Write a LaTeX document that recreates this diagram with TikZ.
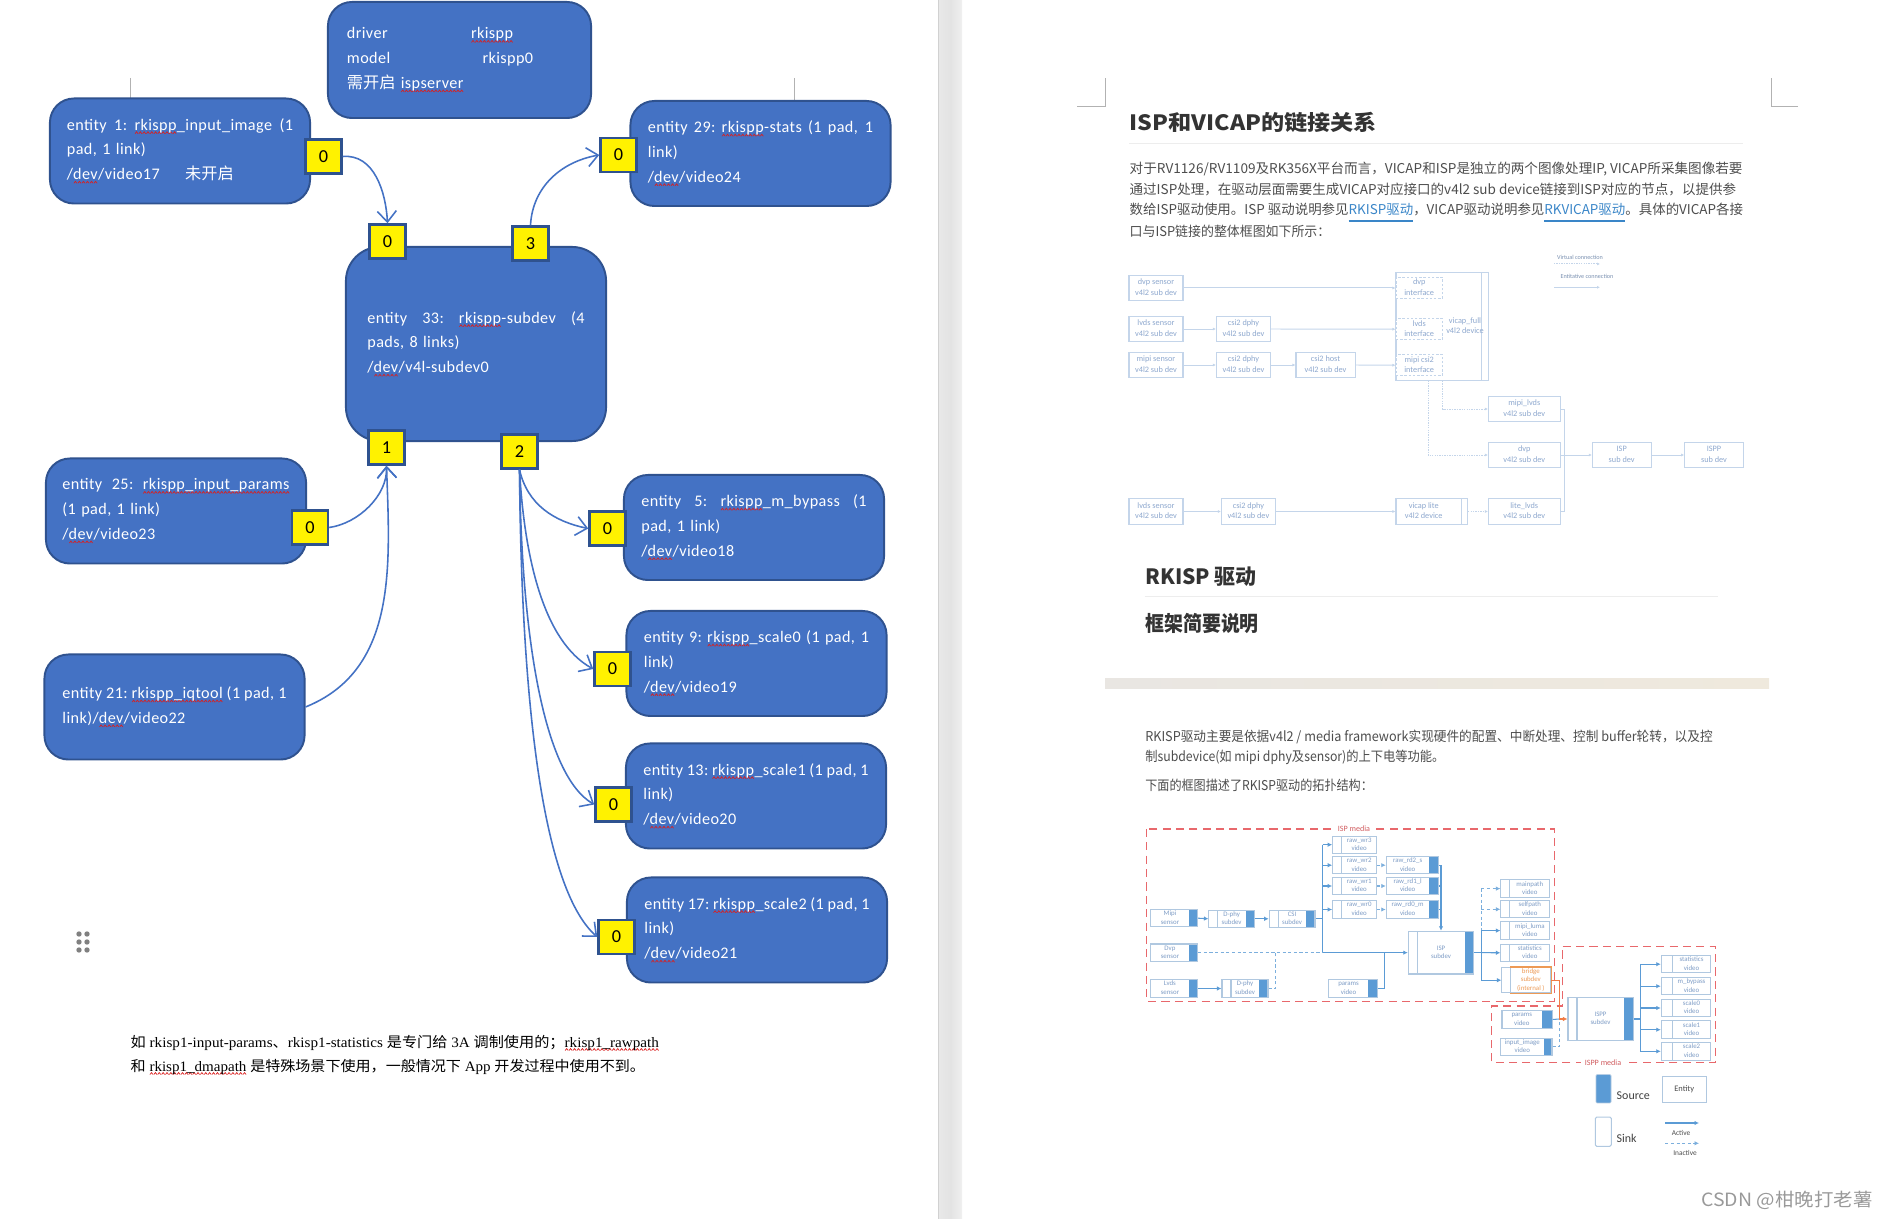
\documentclass[tikz,border=0pt]{standalone}
\usepackage{fontspec}
\usepackage{graphicx}
\usepackage{xcolor}
\usetikzlibrary{arrows.meta, positioning, calc}
\setmainfont{Carlito}
\newfontfamily\entityfont{Carlito}[LetterSpace=2.5]
\newfontfamily\cjk{Noto Sans CJK SC}
\newfontfamily\songlike{Liberation Serif}
\definecolor{entityblue}{HTML}{4472C4}
\definecolor{entityedge}{HTML}{2F528F}
\definecolor{mediablue}{HTML}{5B9BD5}
\definecolor{mediaedge}{HTML}{B0C8E0}
\definecolor{medialabel}{HTML}{7F9DC6}
\definecolor{paleedge}{HTML}{C4D5EA}
\definecolor{palelabel}{HTML}{8FA9CF}
\definecolor{mediared}{HTML}{E8686C}
\definecolor{bridgeorange}{HTML}{ED9A55}
\definecolor{doctext}{HTML}{4D4D4D}
\definecolor{linkblue}{HTML}{3A86C8}
\definecolor{bandleft}{HTML}{E9E6E2}
\definecolor{bandright}{HTML}{EFE9DD}
\definecolor{squigred}{HTML}{D92020}
\newlength\sqglen
\newsavebox\sqgbox
\newcommand\sqg[1]{\settowidth\sqglen{#1}\leavevmode\rlap{\raisebox{-1.1pt}{\hbox to \sqglen{\xleaders\copy\sqgbox\hfill}}}#1}
\newcommand\fitline[2]{\makebox[#1][s]{\spaceskip=0.2em plus 1fil\xspaceskip=\spaceskip #2}}
\newcommand\wtext[2]{\resizebox{#1}{\height}{#2}}
\newcommand\twol[3][0cm]{\hspace*{#1}\begin{tabular}{@{}c@{}}#2\\#3\end{tabular}}
\tikzset{
  entitybox/.style={
    draw=entityedge, fill=entityblue, rounded corners=0.24cm, line width=0.55pt,
    text=white, align=left, inner sep=0pt, minimum width=2.6cm, minimum height=1.05cm,
    font=\entityfont\fontsize{4.6}{7.05}\selectfont
  },
  padbox/.style={
    draw=entityedge, fill=yellow, line width=0.7pt, text=black, inner sep=0pt,
    minimum width=0.36cm, minimum height=0.34cm, font=\fontsize{5.2}{6}\selectfont
  },
  padarrow/.style={-{Straight Barb[length=1.1mm, width=1.9mm]}, line width=0.45pt, color=entityblue},
  doctextline/.style={anchor=base west, yshift=-0.05cm, inner sep=0pt, text=doctext, font=\cjk\fontsize{3.85}{5}\selectfont},
  dochead/.style={anchor=base west, yshift=-0.08cm, inner sep=0pt, text=black!80, font=\cjk\bfseries\fontsize{6}{7}\selectfont},
  docrule/.style={line width=0.35pt, color=black!7},
  notetext/.style={anchor=base west, yshift=-0.05cm, inner sep=0pt, font=\songlike\fontsize{4.1}{5}\selectfont},
  cropmark/.style={line width=0.25pt, color=black!30},
  palebox/.style={
    draw=paleedge, fill=white, line width=0.3pt, inner sep=0pt, text=palelabel,
    minimum width=0.54cm, minimum height=0.254cm, font=\fontsize{2.35}{2.85}\selectfont
  },
  paledashbox/.style={palebox, dashed, dash pattern=on 0.7pt off 0.5pt, minimum width=0.464cm, minimum height=0.214cm},
  barbox/.style={palebox, path picture={\draw[paleedge] ([xshift=-#1]path picture bounding box.north east) -- ([xshift=-#1]path picture bounding box.south east);}},
  barbox/.default=0.067cm,
  palearrow/.style={-{Latex[length=0.3mm, width=0.3mm]}, line width=0.28pt, color=paleedge},
  paleline/.style={line width=0.28pt, color=paleedge},
  paledot/.style={palearrow, dash pattern=on 0.4pt off 0.3pt},
  palelegend/.style={inner sep=0pt, text=palelabel!85!black, font=\fontsize{1.75}{2}\selectfont},
  mediabox/.style={
    draw=mediaedge, fill=white, line width=0.3pt, inner sep=0pt, text=medialabel,
    minimum width=0.44cm, minimum height=0.173cm, font=\fontsize{1.95}{2.4}\selectfont
  },
  srcbox/.style={mediabox, path picture={\fill[mediablue] ([xshift=-#1]path picture bounding box.north east) rectangle (path picture bounding box.south east);}},
  srcbox/.default=0.087cm,
  sinkbox/.style={mediabox, path picture={\draw[mediaedge] ([xshift=#1]path picture bounding box.north west) -- ([xshift=#1]path picture bounding box.south west);}},
  sinkbox/.default=0.09cm,
  bothbox/.style={mediabox, path picture={
    \fill[mediablue] ([xshift=-0.087cm]path picture bounding box.north east) rectangle (path picture bounding box.south east);
    \draw[mediaedge] ([xshift=0.09cm]path picture bounding box.north west) -- ([xshift=0.09cm]path picture bounding box.south west);}},
  mediaarrow/.style={-{Latex[length=0.45mm, width=0.45mm]}, line width=0.3pt, color=mediablue},
  mediadash/.style={mediaarrow, color=mediablue!80, dash pattern=on 0.9pt off 0.7pt},
  mediawire/.style={line width=0.3pt, color=mediablue},
  mediawiredash/.style={mediawire, color=mediablue!80, dash pattern=on 0.9pt off 0.7pt},
  mediaframe/.style={line width=0.32pt, color=mediared, dash pattern=on 2.3pt off 1.5pt},
  medialegend/.style={inner sep=0pt, text=black!70, font=\fontsize{2.1}{2.5}\selectfont},
}
\begin{document}
\sbox\sqgbox{\begin{pgfpicture}\pgfsetlinewidth{0.2pt}\pgfsetstrokecolor{squigred}\pgfpathmoveto{\pgfqpoint{0pt}{0pt}}\pgfpathlineto{\pgfqpoint{0.42pt}{0.55pt}}\pgfpathlineto{\pgfqpoint{0.84pt}{0pt}}\pgfusepath{stroke}\end{pgfpicture}}
\begin{tikzpicture}[x=0.01cm, y=-0.01cm]
  \useasboundingbox (0,0) rectangle (1887,1219);

  % === Page gutter ===
  \fill[left color=black!9, right color=black!6, middle color=black!11] (939,0) rectangle (962,1219);
  \draw[line width=0.25pt, black!18] (938.5,0) -- (938.5,1219);
  \draw[cropmark] (130,78) -- (130,98);
  \draw[cropmark] (794,78) -- (794,100);
  \draw[cropmark] (1077,106) -- (1105,106) -- (1105,78);
  \draw[cropmark] (1798,106) -- (1771,106) -- (1771,78);

  % === Entity boxes ===
  \node[entitybox, minimum width=2.63cm, minimum height=1.16cm, text width=2.25cm] (driver) at (459.5,60)
    {\makebox[1.24cm][l]{driver}\sqg{rkispp}\\
    \makebox[1.355cm][l]{model}rkispp0\\
    {\cjk 需开启} \sqg{ispserver}};
  \node[entitybox, text width=2.26cm] (entone) at (180,151)
    {\fitline{2.26cm}{entity 1: \sqg{rkispp}\_input\_image (1}\\
    pad, 1 link)\\
    /\sqg{dev}/video17\hspace{0.2cm} {\cjk 未开启}};
  \node[entitybox, rounded corners=0.34cm, minimum height=1.94cm, text width=2.17cm] (enttt) at (476,344)
    {\fitline{2.17cm}{entity 33: \sqg{rkispp}-subdev (4}\\
    pads, 8 links)\\
    /\sqg{dev}/v4l-subdev0};
  \node[entitybox, text width=2.25cm] (enttn) at (760.5,153.5)
    {\fitline{2.25cm}{entity 29: \sqg{rkispp}-stats (1 pad, 1}\\
    link)\\
    /\sqg{dev}/video24};
  \node[entitybox, text width=2.27cm] (enttf) at (176,511)
    {\fitline{2.27cm}{entity 25: \sqg{rkispp\_input\_params}}\\
    (1 pad, 1 link)\\
    /\sqg{dev}/video23};
  \node[entitybox, text width=2.24cm] (enttw) at (174.5,707)
    {\fitline{2.24cm}{entity 21: \sqg{rkispp\_iqtool} (1 pad, 1}\\
    link)/\sqg{dev}/video22};
  \node[entitybox, minimum width=2.6cm, text width=2.25cm] (entfv) at (754,527.5)
    {\fitline{2.25cm}{entity 5: \sqg{rkispp}\_m\_bypass (1}\\
    pad, 1 link)\\
    /\sqg{dev}/video18};
  \node[entitybox, text width=2.25cm] (entnn) at (756.5,663.5)
    {\fitline{2.25cm}{entity 9: \sqg{rkispp}\_scale0 (1 pad, 1}\\
    link)\\
    /\sqg{dev}/video19};
  \node[entitybox, text width=2.25cm] (entth) at (756,796)
    {\fitline{2.25cm}{entity 13: \sqg{rkispp}\_scale1 (1 pad, 1}\\
    link)\\
    /\sqg{dev}/video20};
  \node[entitybox, text width=2.25cm] (entsv) at (757,930)
    {\fitline{2.25cm}{entity 17: \sqg{rkispp}\_scale2 (1 pad, 1}\\
    link)\\
    /\sqg{dev}/video21};

  % === Pads and the arrows between them ===
  \node[padbox] (padone) at (323.5,156.5) {0};
  \node[padbox] (padtop) at (387.5,241.5) {0};
  \node[padbox] (padout) at (530.5,243.5) {3};
  \node[padbox] (padin) at (386.5,447.5) {1};
  \node[padbox] (padsrc) at (519.5,451.5) {2};
  \node[padbox] (padstats) at (618.5,155) {0};
  \node[padbox] (padparams) at (310,527.5) {0};
  \node[padbox] (padbyp) at (607.5,528.5) {0};
  \node[padbox] (padsczero) at (612.5,669) {0};
  \node[padbox] (padscone) at (613.5,804.5) {0};
  \node[padbox] (padsctwo) at (616.5,937) {0};

  \draw[padarrow] (padone.east) to[out=5, in=93] (padtop.north);
  \draw[padarrow] (padout.north) to[out=87, in=190] (padstats.west);
  \draw[padarrow] (padparams.east) to[out=8, in=-88, looseness=0.9] (padin.south);
  \draw[padarrow] (enttw.east) to[out=22, in=-88, looseness=1] (padin.south);
  \draw[padarrow] (padsrc.south) .. controls +(8,35) and +(-34,-7) .. (padbyp.west);
  \draw[padarrow] (padsrc.south) .. controls +(5,90) and +(-49,-27) .. (padsczero.west);
  \draw[padarrow] (padsrc.south) .. controls +(2,170) and +(-50,-29) .. (padscone.west);
  \draw[padarrow] (padsrc.south) .. controls +(2,250) and +(-52,-46) .. (padsctwo.west);

  % === Drag handle, note under the graph ===
  \foreach \hx in {79,87}
    \foreach \hy in {934,942,950}
      \fill[black!50] (\hx,\hy) circle (0.027cm);
  \node[notetext] (noteone) at (130,1042)
    {\wtext{5.28cm}{{\cjk 如} rkisp1-input-params{\cjk 、}rkisp1-statistics {\cjk 是专门给} 3A {\cjk 调制使用的；}\sqg{rkisp1\_rawpath}}};
  \node[notetext] (notetwo) at (130,1066)
    {\wtext{5.14cm}{{\cjk 和} \sqg{rkisp1\_dmapath} {\cjk 是特殊场景下使用，一般情况下} App {\cjk 开发过程中使用不到。}}};

  % === Document text ===
  \node[dochead] (headone) at (1129,122.5) {\wtext{2.47cm}{ISP和VICAP的链接关系}};
  \draw[docrule] (1129,143.5) -- (1743,143.5);
  \node[doctextline] (parone) at (1129,168.5) {\wtext{6.125cm}{对于RV1126/RV1109及RK356X平台而言，VICAP和ISP是独立的两个图像处理IP, VICAP所采集图像若要}};
  \node[doctextline] (partwo) at (1129,189.5) {\wtext{6.06cm}{通过ISP处理，在驱动层面需要生成VICAP对应接口的v4l2 sub device链接到ISP对应的节点，以提供参}};
  \node[doctextline] (parthr) at (1129,210) {\wtext{6.13cm}{数给ISP驱动使用。ISP 驱动说明参见\textcolor{linkblue}{\underline{RKISP驱动}}，VICAP驱动说明参见\textcolor{linkblue}{\underline{RKVICAP驱动}}。具体的VICAP各接}};
  \node[doctextline] (parfou) at (1129,231.5) {\wtext{2.005cm}{口与ISP链接的整体框图如下所示：}};

  % === VICAP graph ===
  \node[palebox] (dvpsens) at (1156,288) {\twol{dvp sensor}{v4l2 sub dev}};
  \node[palebox] (lvdssens) at (1156,329) {\twol{lvds sensor}{v4l2 sub dev}};
  \node[palebox] (mipisens) at (1156,365) {\twol{mipi sensor}{v4l2 sub dev}};
  \node[palebox] (dphyone) at (1243.5,329) {\twol{csi2 dphy}{v4l2 sub dev}};
  \node[palebox] (dphytwo) at (1243.5,365) {\twol{csi2 dphy}{v4l2 sub dev}};
  \node[palebox, minimum width=0.59cm] (csihost) at (1325.5,365) {\twol{csi2 host}{v4l2 sub dev}};
  \node[barbox, minimum width=0.925cm, minimum height=1.08cm] (vicapfull) at (1442.25,326.3) {};
  \node[paledashbox] (dvpif) at (1419.2,288) {\twol{dvp}{interface}};
  \node[paledashbox] (lvdsif) at (1419.2,329.2) {\twol{lvds}{interface}};
  \node[paledashbox] (mipiif) at (1419.2,365.2) {\twol{mipi csi2}{interface}};
  \node[inner sep=0pt, text=palelabel, font=\fontsize{2.35}{2.85}\selectfont] (vicaptxt) at (1465,326.5) {\twol{vicap\_full}{v4l2 device}};
  \node[palebox, minimum width=0.715cm] (mipilvds) at (1524.25,409) {\twol{mipi\_lvds}{v4l2 sub dev}};
  \node[palebox, minimum width=0.715cm] (dvpdev) at (1524.25,455) {\twol{dvp}{v4l2 sub dev}};
  \node[palebox, minimum width=0.586cm] (ispdev) at (1621.7,455) {\twol{ISP}{sub dev}};
  \node[palebox, minimum width=0.587cm] (isppdev) at (1714,455) {\twol{ISPP}{sub dev}};
  \node[palebox] (lvdslow) at (1156,511.5) {\twol{lvds sensor}{v4l2 sub dev}};
  \node[palebox] (dphylow) at (1248.4,511.5) {\twol{csi2 dphy}{v4l2 sub dev}};
  \node[barbox=0.065cm, minimum width=0.715cm] (vicaplite) at (1431.75,511.5) {\twol[-0.16cm]{vicap lite}{v4l2 device}};
  \node[palebox, minimum width=0.715cm] (litedev) at (1524.25,511.5) {\twol{lite\_lvds}{v4l2 sub dev}};

  \draw[palearrow] (dvpsens.east) -- (dvpif.west);
  \draw[palearrow] (lvdssens.east) -- (dphyone.west);
  \draw[palearrow] (dphyone.east) -- (lvdsif.west);
  \draw[palearrow] (mipisens.east) -- (dphytwo.west);
  \draw[palearrow] (dphytwo.east) -- (csihost.west);
  \draw[palearrow] (csihost.east) -- (mipiif.west);
  \draw[palearrow] (lvdslow.east) -- (dphylow.west);
  \draw[palearrow] (dphylow.east) -- (vicaplite.west);
  \draw[paledot] (vicaplite.east) -- (litedev.west);
  \coordinate (vicapdrop) at (1428,380.3);
  \coordinate (ispjoin) at (1564.6,455);
  \draw[paledot] (dvpif.east |- vicapfull.south) |- (mipilvds.west);
  \draw[paledot] (vicapdrop) |- (dvpdev.west);
  \draw[paleline] (mipilvds.east) -| (ispjoin);
  \draw[paleline] (litedev.east) -| (ispjoin);
  \draw[palearrow] (dvpdev.east) -- (ispdev.west);
  \draw[palearrow] (ispdev.east) -- (isppdev.west);

  \node[palelegend] (virtualtxt) at (1580,257) {Virtual connection};
  \node[palelegend] (entitxt) at (1587,276) {Entitative connection};
  \coordinate (virtualfrom) at (1554,264);
  \coordinate (virtualto) at (1600,264);
  \coordinate (entifrom) at (1554,287.3);
  \coordinate (entito) at (1600,287.3);
  \draw[paledot] (virtualfrom) -- (virtualto);
  \draw[palearrow] (entifrom) -- (entito);

  % === Second part of the document ===
  \node[dochead] (headtwo) at (1144.6,577) {\wtext{1.115cm}{RKISP 驱动}};
  \draw[docrule] (1144.6,596.7) -- (1718,596.7);
  \node[dochead] (headthr) at (1144.6,623.5) {\wtext{1.135cm}{框架简要说明}};
  \fill[left color=bandleft, right color=bandright] (1105,679) rectangle (1769,688.7);
  \node[doctextline] (rkone) at (1144.6,737) {\wtext{5.67cm}{RKISP驱动主要是依据v4l2 / media framework实现硬件的配置、中断处理、控制 buffer轮转，以及控}};
  \node[doctextline] (rktwo) at (1144.6,756.5) {\wtext{2.99cm}{制subdevice(如 mipi dphy及sensor)的上下电等功能。}};
  \node[doctextline] (rkthr) at (1144.6,785.5) {\wtext{2.275cm}{下面的框图描述了RKISP驱动的拓扑结构：}};

  % === Media graph ===
  \draw[mediaframe] (1146.7,829) rectangle (1554.3,1001.3);
  \node[inner sep=1pt, fill=white, text=mediared!90!black, font=\fontsize{2.3}{2.8}\selectfont] (ispmediatxt) at (1354,828.5) {ISP media};
  \draw[mediaframe] (1562.7,946.7) -- (1715.7,946.7) -- (1715.7,1062.7) -- (1491.7,1062.7) -- (1491.7,1006) -- (1562.7,1006) -- cycle;
  \node[inner sep=1pt, fill=white, text=mediared!90!black, font=\fontsize{2.3}{2.8}\selectfont] (isppmediatxt) at (1603,1062.7) {ISPP media};

  \node[srcbox, minimum width=0.467cm] (mipisrc) at (1174.3,918.2) {\twol[-0.087cm]{Mipi}{sensor}};
  \node[srcbox, minimum width=0.467cm] (dvpsrc) at (1174.3,952.65) {\twol[-0.087cm]{Dvp}{sensor}};
  \node[srcbox, minimum width=0.467cm] (lvdssrc) at (1174.3,988.5) {\twol[-0.087cm]{Lvds}{sensor}};
  \node[bothbox, minimum width=0.453cm] (dphymipi) at (1231.6,918.8) {\twol{D-phy}{subdev}};
  \node[bothbox, minimum width=0.457cm] (csisub) at (1292.1,918.8) {\twol{CSI}{subdev}};
  \node[bothbox, minimum width=0.46cm] (dphylvds) at (1245,988.5) {\twol{D-phy}{subdev}};
  \node[sinkbox] (wrthree) at (1354.7,844.7) {\twol[0.09cm]{raw\_wr3}{video}};
  \node[sinkbox] (wrtwo) at (1354.7,865.2) {\twol[0.09cm]{raw\_wr2}{video}};
  \node[sinkbox] (wrone) at (1354.7,886) {\twol[0.09cm]{raw\_wr1}{video}};
  \node[sinkbox] (wrzero) at (1354.7,909.5) {\twol[0.09cm]{raw\_wr0}{video}};
  \node[srcbox=0.093cm, minimum width=0.52cm] (rdtwo) at (1412.3,865.2) {\twol[-0.093cm]{raw\_rd2\_s}{video}};
  \node[srcbox=0.093cm, minimum width=0.52cm] (rdone) at (1412.3,886) {\twol[-0.093cm]{raw\_rd1\_l}{video}};
  \node[srcbox=0.093cm, minimum width=0.52cm] (rdzero) at (1412.3,909.5) {\twol[-0.093cm]{raw\_rd0\_m}{video}};
  \node[bothbox, minimum width=0.654cm, minimum height=0.427cm] (ispsub) at (1441,952.65) {\twol{ISP}{subdev}};
  \node[sinkbox, minimum width=0.487cm] (mainpath) at (1525.3,888.6) {\twol[0.09cm]{mainpath}{video}};
  \node[sinkbox, minimum width=0.487cm] (selfpath) at (1525.3,909.3) {\twol[0.09cm]{selfpath}{video}};
  \node[sinkbox, minimum width=0.487cm] (mipiluma) at (1525.3,930.6) {\twol[0.09cm]{mipi\_luma}{video}};
  \node[sinkbox, minimum width=0.487cm] (ispstats) at (1525.3,952.8) {\twol[0.09cm]{statistics}{video}};
  \node[sinkbox, minimum width=0.487cm, minimum height=0.25cm, text=bridgeorange] (bridge) at (1526.3,980.2)
    {\hspace*{0.09cm}\begin{tabular}{@{}c@{}}bridge\\subdev\\(internal )\end{tabular}};
  \draw[bridgeorange, line width=0.3pt] ([xshift=0.09cm]bridge.north west) -- (bridge.north east) -- (bridge.south east) -- ([xshift=0.09cm]bridge.south west);
  \node[srcbox, minimum width=0.483cm] (ispparams) at (1352.9,988.5) {\twol[-0.087cm]{params}{video}};
  \node[srcbox=0.103cm, minimum width=0.5cm] (isppparams) at (1527,1019.5) {\twol[-0.103cm]{params}{video}};
  \node[srcbox=0.08cm, minimum width=0.513cm] (inputimage) at (1526.3,1046.8) {\twol[-0.08cm]{input\_image}{video}};
  \node[bothbox, minimum width=0.65cm, minimum height=0.426cm] (isppsub) at (1600.5,1019) {\twol{ISPP}{subdev}};
  \node[sinkbox=0.11cm, minimum width=0.494cm, minimum height=0.175cm] (outstats) at (1686,964.2) {\twol[0.11cm]{statistics}{video}};
  \node[sinkbox=0.11cm, minimum width=0.494cm, minimum height=0.175cm] (outbypass) at (1686,986.2) {\twol[0.11cm]{m\_bypass}{video}};
  \node[sinkbox=0.11cm, minimum width=0.494cm, minimum height=0.175cm] (outscz) at (1686,1008) {\twol[0.11cm]{scale0}{video}};
  \node[sinkbox=0.11cm, minimum width=0.494cm, minimum height=0.175cm] (outsco) at (1686,1029.7) {\twol[0.11cm]{scale1}{video}};
  \node[sinkbox=0.11cm, minimum width=0.494cm, minimum height=0.175cm] (outsct) at (1686,1051.3) {\twol[0.11cm]{scale2}{video}};

  % input side of ISP
  \coordinate (ispbus) at (1322.7,952.65);
  \coordinate (lvdsjoin) at (1275.7,952.65);
  \coordinate (paramsjoin) at (1384.7,952.65);
  \draw[mediaarrow] (mipisrc.east) -- (dphymipi.west);
  \draw[mediaarrow] (dphymipi.east) -- (csisub.west);
  \draw[mediawire] (csisub.east) -- (csisub.east -| ispbus);
  \draw[mediawire] (ispbus |- wrthree.west) -- (ispbus);
  \draw[mediaarrow] (ispbus |- wrthree.west) -- (wrthree.west);
  \draw[mediaarrow] (ispbus |- wrtwo.west) -- (wrtwo.west);
  \draw[mediaarrow] (ispbus |- wrone.west) -- (wrone.west);
  \draw[mediaarrow] (ispbus |- wrzero.west) -- (wrzero.west);
  \draw[mediadash] (wrtwo.east) -- (rdtwo.west);
  \draw[mediadash] (wrone.east) -- (rdone.west);
  \draw[mediadash] (wrzero.east) -- (rdzero.west);
  \draw[mediaarrow] (rdtwo.east) -| (ispsub.north);
  \draw[mediawire] (rdone.east) -- (rdone.east -| ispsub.north);
  \draw[mediawire] (rdzero.east) -- (rdzero.east -| ispsub.north);
  \draw[mediawiredash] (dvpsrc.east) -- (ispbus);
  \draw[mediaarrow] (ispbus) -- (ispsub.west);
  \draw[mediaarrow] (lvdssrc.east) -- (dphylvds.west);
  \draw[mediawiredash] (dphylvds.east) -| (lvdsjoin);
  \draw[mediawire] (ispparams.east) -| (paramsjoin);

  % output side of ISP
  \coordinate (ispout) at (1481.3,952.65);
  \draw[mediawire] (ispsub.east) -- (ispout);
  \draw[mediawire] (ispout |- mipiluma.west) -- (ispout |- bridge.west);
  \draw[mediawiredash] (ispout |- mainpath.west) -- (ispout |- mipiluma.west);
  \draw[mediadash] (ispout |- mainpath.west) -- (mainpath.west);
  \draw[mediadash] (ispout |- selfpath.west) -- (selfpath.west);
  \draw[mediaarrow] (ispout |- mipiluma.west) -- (mipiluma.west);
  \draw[mediaarrow] (ispout) -- (ispstats.west);
  \draw[mediaarrow] (ispout |- bridge.west) -- (bridge.west);

  % ISPP
  \coordinate (isppjoin) at (1559.3,1019);
  \coordinate (isppout) at (1640.3,1019);
  \draw[mediawire] (isppparams.east) -- (isppjoin);
  \draw[mediawiredash] (inputimage.east) -| (isppjoin);
  \draw[-{Latex[length=0.45mm, width=0.45mm]}, line width=0.35pt, color=bridgeorange!80!red] (bridge.east) -| (isppjoin) -- (isppsub.west);
  \draw[mediawire] (isppsub.east) -- (isppout);
  \draw[mediawire] (isppout |- outstats.west) -- (isppout |- outsct.west);
  \draw[mediaarrow] (isppout |- outstats.west) -- (outstats.west);
  \draw[mediaarrow] (isppout |- outbypass.west) -- (outbypass.west);
  \draw[mediaarrow] (isppout |- outscz.west) -- (outscz.west);
  \draw[mediaarrow] (isppout |- outsco.west) -- (outsco.west);
  \draw[mediaarrow] (isppout |- outsct.west) -- (outsct.west);

  % === Legend ===
  \node[fill=mediablue, rounded corners=0.01cm, draw=mediaedge, line width=0.2pt, minimum width=0.15cm, minimum height=0.283cm, inner sep=0pt] (legsource) at (1603.5,1088.8) {};
  \node[draw=mediaedge, rounded corners=0.015cm, line width=0.3pt, minimum width=0.16cm, minimum height=0.293cm, inner sep=0pt] (legsink) at (1603.3,1131.7) {};
  \node[anchor=west, inner sep=0pt, text=black!75, font=\fontsize{3.4}{4}\selectfont] (legsourcetxt) at (1616,1095.7) {Source};
  \node[anchor=west, inner sep=0pt, text=black!75, font=\fontsize{3.4}{4}\selectfont] (legsinktxt) at (1616,1138) {Sink};
  \node[mediabox, minimum width=0.437cm, minimum height=0.257cm, text=black!70, font=\fontsize{2.4}{3}\selectfont] (legentity) at (1684.2,1089.2) {Entity};
  \coordinate (activefrom) at (1665.3,1123);
  \coordinate (activeto) at (1699,1123);
  \coordinate (inactivefrom) at (1665.3,1143.3);
  \coordinate (inactiveto) at (1699,1143.3);
  \draw[mediaarrow] (activefrom) -- (activeto);
  \draw[mediadash] (inactivefrom) -- (inactiveto);
  \node[medialegend] (legactive) at (1681,1132.7) {Active};
  \node[medialegend] (leginactive) at (1685,1153) {Inactive};

  % === Watermark ===
  \node[anchor=west, inner sep=0pt, text=black!40, font=\cjk\fontsize{5.2}{6}\selectfont] (wmark) at (1700.7,1200) {\wtext{1.71cm}{CSDN @柑晚打老薯}};
\end{tikzpicture}
\end{document}
